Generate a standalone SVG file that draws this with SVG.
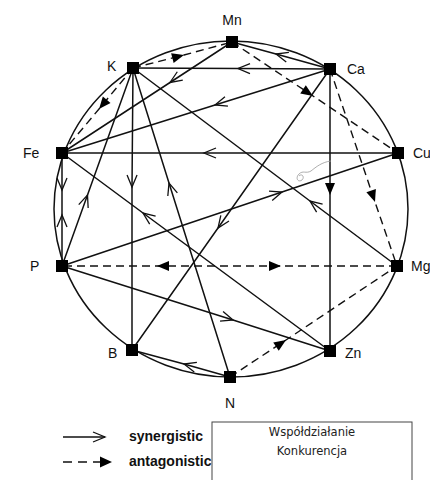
<svg xmlns="http://www.w3.org/2000/svg" width="430" height="480" viewBox="0 0 430 480">
<style>
.lbl{font-family:"Liberation Sans",Arial,sans-serif;font-size:14px;fill:#111}
.nd{fill:#000}
.e{fill:none;stroke:#111;stroke-width:1.5}
.d{fill:none;stroke:#111;stroke-width:1.4;stroke-dasharray:8 5}
.s{marker-mid:url(#open)}
.a{marker-mid:url(#fill)}
.leg{font-family:"Liberation Sans",Arial,sans-serif;font-size:14px;font-weight:bold;fill:#111}
.box{font-family:"DejaVu Sans","Noto Sans",sans-serif;font-size:11.5px;fill:#222}
</style>
<defs>
<marker id="open" viewBox="-2 -2 16 14" refX="12" refY="5" markerWidth="16" markerHeight="14" markerUnits="userSpaceOnUse" orient="auto" overflow="visible">
<path d="M0,0 L12,5 L0,10" fill="none" stroke="#111" stroke-width="1.3"/>
</marker>
<marker id="fill" viewBox="0 0 12 10" refX="12" refY="5" markerWidth="12" markerHeight="10" markerUnits="userSpaceOnUse" orient="auto" overflow="visible">
<path d="M0,0 L12,5 L0,10 Z" fill="#000"/>
</marker>
</defs>
<rect width="430" height="480" fill="#fff"/>
<ellipse cx="231" cy="209" rx="177" ry="168" fill="none" stroke="#111" stroke-width="1.5"/>
<g id="connectors">
<path class="d a" d="M133,68 L184,55 L232,42"/>
<path class="e s" d="M330,69 L238,68.5 L133,68"/>
<path class="d a" d="M133,68 L99,109 L62,153"/>
<path class="e s" d="M232,42 L170,82.5 L62,153"/>
<path class="e s" d="M330,69 L276,54 L232,42"/>
<path class="d a" d="M232,42 L313,96 L398,153"/>
<path class="e s" d="M330,69 L215,105 L62,153"/>
<path class="e s" d="M330,69 L218,228 L132,350"/>
<path class="e a" d="M330,69 L330,195 L330,351"/>
<path class="d a" d="M330,69 L375,202 L397,266"/>
<path class="e s" d="M398,153 L204,153 L62,153"/>
<path class="e s" d="M62,266 L282,192 L398,153"/>
<path class="e s" d="M62,153 L62,190 L62,266"/>
<path class="s" fill="none" stroke="none" d="M62,266 L62,215 L62,153"/>
<path class="e s" d="M330,351 L143,213 L62,153"/>
<path class="e s" d="M397,266 L310,201 L133,68"/>
<path class="e s" d="M62,266 L87.5,195 L133,68"/>
<path class="e s" d="M133,68 L132,187 L132,350"/>
<path class="e s" d="M230,377 L169,183 L133,68"/>
<path class="d a" d="M397,266 L157,266 L62,266"/>
<path class="a" fill="none" stroke="none" d="M62,266 L281,266 L397,266"/>
<path class="e s" d="M62,266 L233,320 L330,351"/>
<path class="d a" d="M230,377 L286,340 L397,266"/>
<path class="e s" d="M230,377 L184,364 L132,350"/>
<path d="M331,161 C322,162 316,167 311,171 C306,174 303,170 299,174 C295,178 298,183 302,180 C305,177 302,173 299,176" fill="none" stroke="#999" stroke-width="0.8"/>
</g>
<g id="Mn"><rect class="nd" x="226" y="36" width="12" height="12"/><text class="lbl" x="232" y="25" text-anchor="middle">Mn</text></g>
<g id="K"><rect class="nd" x="127" y="62" width="12" height="12"/><text class="lbl" x="107" y="71">K</text></g>
<g id="Ca"><rect class="nd" x="324" y="63" width="12" height="12"/><text class="lbl" x="347" y="74">Ca</text></g>
<g id="Fe"><rect class="nd" x="56" y="147" width="12" height="12"/><text class="lbl" x="23" y="158">Fe</text></g>
<g id="Cu"><rect class="nd" x="392" y="147" width="12" height="12"/><text class="lbl" x="413" y="158">Cu</text></g>
<g id="P"><rect class="nd" x="56" y="260" width="12" height="12"/><text class="lbl" x="30" y="271">P</text></g>
<g id="Mg"><rect class="nd" x="391" y="260" width="12" height="12"/><text class="lbl" x="411" y="271">Mg</text></g>
<g id="B"><rect class="nd" x="126" y="344" width="12" height="12"/><text class="lbl" x="108" y="358">B</text></g>
<g id="Zn"><rect class="nd" x="324" y="345" width="12" height="12"/><text class="lbl" x="345" y="358">Zn</text></g>
<g id="N"><rect class="nd" x="224" y="371" width="12" height="12"/><text class="lbl" x="230" y="408" text-anchor="middle">N</text></g>
<g id="legend">
<path d="M63,437 L105,437" fill="none" stroke="#111" stroke-width="1.5"/>
<path d="M93,432 L105,437 L93,442" fill="none" stroke="#111" stroke-width="1.3"/>
<text class="leg" x="129" y="441">synergistic</text>
<path d="M63,462 L100,462" fill="none" stroke="#111" stroke-width="1.5" stroke-dasharray="9 6"/>
<path d="M100,456.5 L112,462 L100,467.5 Z" fill="#000"/>
<text class="leg" x="129" y="466">antagonistic</text>
<rect x="212" y="422" width="200" height="70" fill="#fff" stroke="#444" stroke-width="1"/>
<text class="box" x="312" y="436" text-anchor="middle">Współdziałanie</text>
<text class="box" x="312" y="455" text-anchor="middle">Konkurencja</text>
</g>
</svg>
